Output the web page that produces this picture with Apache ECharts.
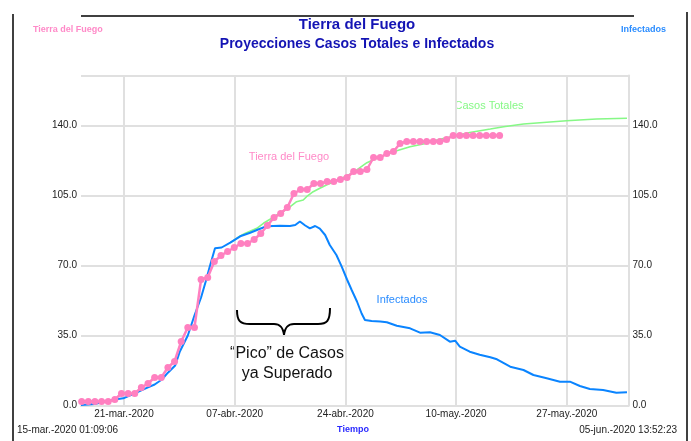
<!DOCTYPE html>
<html>
<head>
<meta charset="utf-8">
<script src="https://cdn.jsdelivr.net/npm/echarts@6.0.0/dist/echarts.min.js"></script>
<style>
html, body { margin: 0; padding: 0; background: #fff; }
#chart { width: 691px; height: 441px; }
</style>
</head>
<body>
<div id="chart"></div>
<script>
// time in days since 15-mar.-2020 01:09:06 (simulation start)
var xMax = 82.53
var xTickDays = [6.48, 23.17, 39.86, 56.54, 73.23]
var xTickLabels = ['21-mar.-2020', '07-abr.-2020', '24-abr.-2020', '10-may.-2020', '27-may.-2020']

// observed cases, one per day
var tdfStart = 0.1
var tdfVals = [2, 2, 2, 2, 2, 3, 6, 6, 6, 9, 11, 14, 14, 19, 22, 32, 39, 39, 63, 64,
  72, 75, 77, 79, 81, 81, 83, 86, 90, 94, 96, 99, 106, 108, 108, 111, 111, 112, 112, 113,
  114, 117, 117, 118, 124, 124, 126, 127, 131, 132, 132, 132, 132, 132, 132, 133, 135, 135, 135, 135,
  135, 135, 135, 135]

// model: Infectados
var infDays = [0, 2.07, 4.57, 6.38, 8.09, 10.1, 11.1, 12.2, 13.1, 14.2, 14.9, 16.1, 17.1, 18.1, 18.8,
  19.4, 20.2, 21.2, 22.5, 24.0, 25.5, 26.7, 28.0, 30.0, 31.5, 32.3, 33.0, 33.8, 34.5, 35.3,
  36.0, 36.8, 37.5, 38.5, 39.3, 40.1, 40.8, 41.6, 42.3, 42.8, 43.8, 45.1, 46.1, 47.6, 49.6,
  51.1, 52.6, 54.1, 55.6, 56.4, 57.1, 58.6, 60.1, 61.7, 62.7, 64.7, 66.7, 68.2, 70.2, 72.2,
  73.7, 75.2, 76.7, 78.7, 80.7, 82.3]
var infVals = [0.3, 0.75, 2.75, 3.6, 6.1, 9.1, 10.5, 13, 16.4, 20, 27, 35, 45, 54, 62,
  69.4, 78.6, 79, 81.4, 84.6, 86.4, 88, 89.6, 89.9, 89.75, 90.25, 92, 90, 88.6, 89.75,
  88.4, 85.25, 80.25, 75.25, 69.4, 63, 57.75, 52, 46, 42.75, 42.2, 42, 41.6, 39.9, 38.6,
  36.4, 36.6, 35.25, 31.9, 32.4, 29.4, 26.9, 25.4, 24.1, 23.1, 19.4, 17.75, 15.25, 13.6, 11.9,
  11.9, 9.75, 8.25, 7.75, 6.4, 6.6]

// model: Casos Totales (same as Infectados before day 22)
var casosDays = [22.5, 24.0, 24.7, 26.5, 27.5, 28.5, 29.2, 30.0, 31.2, 32.5, 33.5, 34.0, 35.0, 36.0,
  37.0, 39.0, 41.0, 43.1, 45.1, 47.6, 49.6, 51.6, 53.6, 56.1, 58.6, 61.7, 63.7, 66.7, 69.2,
  73.2, 77.7, 82.3]
var casosVals = [81.4, 84.8, 86, 88.6, 91.1, 93.1, 94.75, 96.1, 98.6, 101.9, 102.75, 104.4, 106.9, 108.6,
  110.25, 113.1, 116.4, 121.4, 124.4, 127.4, 129.4, 130.75, 132.75, 134.6, 136.5, 138.25, 139.4, 140.75, 141.4,
  142.4, 143.25, 143.6]

var FONT = '"Liberation Sans", Arial, sans-serif'
var PINK = '#ff80c0'
var BLUE = '#0a84ff'
var GREEN = '#86f886'
var NAVY = '#1414b4'
var GRIDC = '#e0e0e0'

function pairs (xs, ys) {
  return ys.map(function (v, i) { return [xs[i], v] })
}

var chart = echarts.init(document.getElementById('chart'))

function yAxisOpt (pos) {
  return {
    type: 'value',
    position: pos,
    min: 0,
    max: 165,
    interval: 35,
    axisLine: { show: pos === 'right', onZero: false, lineStyle: { color: GRIDC, width: 2 } },
    axisTick: { show: false },
    splitLine: { show: pos === 'left', lineStyle: { color: GRIDC, width: 2 } },
    axisLabel: {
      showMaxLabel: false,
      margin: 4,
      color: '#222',
      fontFamily: FONT,
      fontSize: 10,
      formatter: function (v) { return v === 165 ? '' : v.toFixed(1) }
    }
  }
}

function braceCurve (x1, y1, c1x, c1y, c2x, c2y, x2, y2) {
  return {
    type: 'bezierCurve',
    shape: { x1: x1, y1: y1, cpx1: c1x, cpy1: c1y, cpx2: c2x, cpy2: c2y, x2: x2, y2: y2 },
    style: { stroke: '#000', lineWidth: 2, fill: null }
  }
}
function braceLine (x1, y1, x2, y2) {
  return { type: 'line', shape: { x1: x1, y1: y1, x2: x2, y2: y2 }, style: { stroke: '#000', lineWidth: 2 } }
}
function label (x, y, text, color, font, align) {
  return { type: 'text', x: x, y: y, style: { text: text, fill: color, font: font, textAlign: align || 'center', textVerticalAlign: 'middle' } }
}

var option = {
  animation: false,
  grid: { left: 81, right: 62.5, top: 75.5, bottom: 35.5 },
  xAxis: {
    type: 'value',
    min: 0,
    max: xMax,
    axisLine: { show: true, lineStyle: { color: GRIDC, width: 2 } },
    axisTick: { show: false, customValues: xTickDays },
    splitLine: { show: true, lineStyle: { color: GRIDC, width: 2 } },
    axisLabel: {
      customValues: xTickDays,
      margin: 4,
      color: '#222',
      fontFamily: FONT,
      fontSize: 10,
      formatter: function (v) {
        var i = xTickDays.indexOf(v)
        return i >= 0 ? xTickLabels[i] : ''
      }
    }
  },
  yAxis: [yAxisOpt('left'), yAxisOpt('right')],
  series: [
    {
      name: 'Casos Totales',
      type: 'line',
      data: pairs(casosDays, casosVals),
      showSymbol: false,
      lineStyle: { color: GREEN, width: 1.6 }
    },
    {
      name: 'Infectados',
      type: 'line',
      yAxisIndex: 1,
      data: pairs(infDays, infVals),
      showSymbol: false,
      lineStyle: { color: BLUE, width: 2 }
    },
    {
      name: 'Tierra del Fuego',
      type: 'line',
      data: tdfVals.map(function (v, i) { return [tdfStart + i, v] }),
      symbol: 'circle',
      symbolSize: 7,
      showAllSymbol: true,
      itemStyle: { color: PINK },
      lineStyle: { color: PINK, width: 2.5 }
    }
  ],
  graphic: [
    // frame
    { type: 'line', shape: { x1: 13, y1: 14, x2: 13, y2: 441 }, style: { stroke: '#000', lineWidth: 1.5 } },
    { type: 'line', shape: { x1: 687, y1: 12, x2: 687, y2: 441 }, style: { stroke: '#000', lineWidth: 1.5 } },
    { type: 'line', shape: { x1: 81, y1: 16, x2: 634, y2: 16 }, style: { stroke: '#000', lineWidth: 1.5 } },
    // titles
    label(357, 25, 'Tierra del Fuego', NAVY, 'bold 15px ' + FONT),
    label(357, 44, 'Proyecciones Casos Totales e Infectados', NAVY, 'bold 14px ' + FONT),
    label(33, 30, 'Tierra del Fuego', '#ff8ac8', 'bold 9px ' + FONT, 'left'),
    label(666, 30, 'Infectados', '#2a8cff', 'bold 9px ' + FONT, 'right'),
    // bottom line
    label(17, 430, '15-mar.-2020 01:09:06', '#222', '10px ' + FONT, 'left'),
    label(353, 430, 'Tiempo', '#2a2aff', 'bold 9px ' + FONT),
    label(677, 430, '05-jun.-2020 13:52:23', '#222', '10px ' + FONT, 'right'),
    // series labels
    label(289, 157, 'Tierra del Fuego', '#ff8ac8', '11px ' + FONT),
    label(489, 106, 'Casos Totales', GREEN, '11px ' + FONT),
    label(402, 300, 'Infectados', '#2a8cff', '11px ' + FONT),
    // brace + note
    braceCurve(237, 310, 237, 321, 240, 324, 250, 324),
    braceLine(250, 324, 274, 324),
    braceCurve(274, 324, 280, 324, 283, 327, 284, 335),
    braceCurve(284, 335, 285, 327, 288, 324, 294, 324),
    braceLine(294, 324, 318, 324),
    braceCurve(318, 324, 327, 324, 330, 321, 330, 308),
    label(287, 354, '\u201cPico\u201d de Casos', '#111', '16px ' + FONT),
    label(287, 374, 'ya Superado', '#111', '16px ' + FONT)
  ]
}

chart.setOption(option)
</script>
</body>
</html>
